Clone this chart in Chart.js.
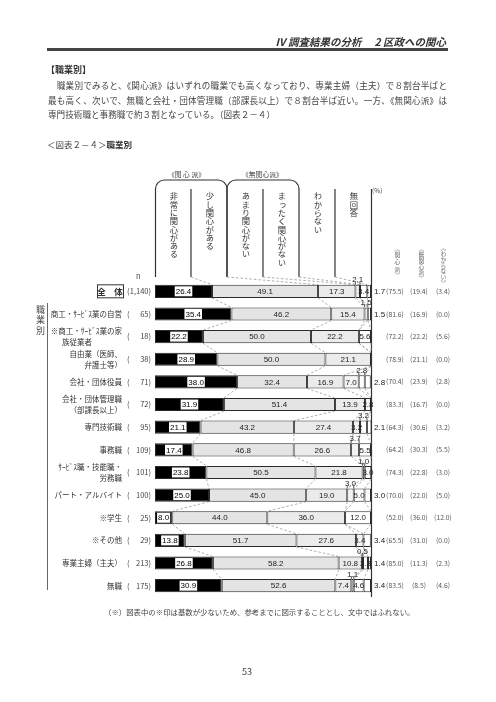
<!DOCTYPE html>
<html lang="ja">
<head>
<meta charset="utf-8">
<script src="https://cdn.jsdelivr.net/npm/chart.js@4.4.0/dist/chart.umd.min.js"></script>
<style>
  body { margin: 0; background: #fff; }
  #page { position: relative; width: 496px; height: 702px; overflow: hidden;
          font-family: "Noto Sans CJK JP", sans-serif; color: #333; }
  #page div { position: absolute; white-space: nowrap; }
  canvas { position: absolute; left: 0; top: 0; }
  .vt { writing-mode: vertical-rl; font-size: 8.3px; line-height: 1; color: #333; width: 10px; text-align: center; }
  .vs { writing-mode: vertical-rl; font-size: 5.8px; line-height: 1; color: #666; }
</style>
</head>
<body>
<div id="page">
  <canvas id="chart" width="496" height="702"></canvas>

  <!-- en-tete de page -->
  <div style="right:50px; top:35px; font-size:10.5px; line-height:14px; font-weight:bold; font-style:italic; color:#333;">Ⅳ 調査結果の分析　 2 区政への関心</div>
  <div style="left:47px; top:48px; width:401px; height:3px; background:#444;"></div>

  <div style="left:46px; top:63px; font-size:9px; line-height:14px; font-weight:bold;">【職業別】</div>
  <div style="left:48px; top:78px; width:399px; font-size:8.6px; line-height:14px; text-align-last:justify; color:#444;">　職業別でみると、《関心派》はいずれの職業でも高くなっており、専業主婦（主夫）で８割台半ばと</div>
  <div style="left:48px; top:92.5px; width:399px; font-size:8.6px; line-height:14px; text-align-last:justify; color:#444;">最も高く、次いで、無職と会社・団体管理職（部課長以上）で８割台半ば近い。一方、《無関心派》は</div>
  <div style="left:48px; top:106.5px; font-size:8.6px; line-height:14px; color:#444;">専門技術職と事務職で約３割となっている。（図表２－４）</div>

  <div style="left:47px; top:137px; font-size:8.5px; line-height:14px; color:#444;">＜図表２－４＞<b style="color:#333">職業別</b></div>

  <!-- en-tetes des colonnes -->
  <div style="left:168px; top:169px; font-size:6.8px; line-height:10px; color:#444;">《関 心 派》</div>
  <div style="left:242px; top:169px; font-size:6.8px; line-height:10px; color:#444;">《無関心派》</div>
  <div class="vt" style="left:168px; top:192px;">非常に関心がある</div>
  <div class="vt" style="left:204px; top:192px;">少し関心がある</div>
  <div class="vt" style="left:240px; top:192px;">あまり関心がない</div>
  <div class="vt" style="left:276px; top:192px;">まったく関心がない</div>
  <div class="vt" style="left:312px; top:192px;">わからない</div>
  <div class="vt" style="left:348px; top:192px;">無回答</div>
  <div style="left:372px; top:186px; font-size:6.5px; line-height:8px; color:#444;">(%)</div>

  <div class="vs" style="left:394px; top:246px;">《関 心 派》</div>
  <div class="vs" style="left:418px; top:246px;">《無関心派》</div>
  <div class="vs" style="left:440px; top:245px;">《わからない》</div>

  <div style="left:136px; top:271px; font-size:7.5px; line-height:10px; color:#444;">n</div>
  <div class="vt" style="left:35px; top:305px; font-size:9px; letter-spacing:1.5px; color:#444; width:10px;">職業別</div>
  <div style="left:47px; top:303px; width:0; height:287px; border-left:1px solid #666;"></div>

  <div style="left:104px; top:606px; font-size:7.4px; line-height:12px; color:#444;">（※）図表中の※印は基数が少ないため、参考までに図示することとし、文中ではふれない。</div>
  <div style="left:242px; top:666px; font-size:9px; line-height:12px; color:#444;">53</div>
</div>

<script>
// categories (lignes)
const rowNames = [
  ["全　体"],
  ["商工・ｻｰﾋﾞｽ業の自営"],
  ["※商工・ｻｰﾋﾞｽ業の家", "族従業者　　　　"],
  ["自由業（医師、", "弁護士等）"],
  ["会社・団体役員"],
  ["会社・団体管理職", "（部課長以上）"],
  ["専門技術職"],
  ["事務職"],
  ["ｻｰﾋﾞｽ職・技能職・", "労務職"],
  ["パート・アルバイト"],
  ["※学生"],
  ["※その他"],
  ["専業主婦（主夫）"],
  ["無職"]
];
const nCounts = [1140, 65, 18, 38, 71, 72, 95, 109, 101, 100, 25, 29, 213, 175];

// series (%)
const seriesNames = ["非常に関心がある", "少し関心がある", "あまり関心がない", "まったく関心がない", "わからない", "無回答"];
const hijouni   = [26.4, 35.4, 22.2, 28.9, 38.0, 31.9, 21.1, 17.4, 23.8, 25.0, 8.0, 13.8, 26.8, 30.9];
const sukoshi   = [49.1, 46.2, 50.0, 50.0, 32.4, 51.4, 43.2, 46.8, 50.5, 45.0, 44.0, 51.7, 58.2, 52.6];
const amari     = [17.3, 15.4, 22.2, 21.1, 16.9, 13.9, 27.4, 26.6, 21.8, 19.0, 36.0, 27.6, 10.8, 7.4];
const mattaku   = [2.1, 1.5, 0, 0, 7.0, 2.8, 3.2, 3.7, 1.0, 3.0, 0, 3.4, 0.5, 1.1];
const wakaranai = [3.4, 0, 5.6, 0, 2.8, 0, 3.2, 5.5, 3.0, 5.0, 12.0, 0, 2.3, 4.6];
const mukaitou  = [1.7, 1.5, 0, 0, 2.8, 0, 2.1, 0, 0, 3.0, 0, 3.4, 1.4, 3.4];

// colonnes de droite
const kanshinha   = [75.5, 81.6, 72.2, 78.9, 70.4, 83.3, 64.3, 64.2, 74.3, 70.0, 52.0, 65.5, 85.0, 83.5];
const mukanshinha = [19.4, 16.9, 22.2, 21.1, 23.9, 16.7, 30.6, 30.3, 22.8, 22.0, 36.0, 31.0, 11.3, 8.5];

const allSeries = [hijouni, sukoshi, amari, mattaku, wakaranai, mukaitou];
const colors = ["#000000", "#e4e4e4", "#ebebeb", "#f3f3f3", "#ffffff", "#ffffff"];

// etiquette au-dessus du segment ?
function isAbove(i, d) {
  const v = d === 3 ? mattaku[i] : wakaranai[i];
  const o = d === 3 ? wakaranai[i] : mattaku[i];
  if (v < 2) return true;
  if (d === 3) return o > 0 && v < o;
  return o > 0 && v <= o;
}

const numFont = "8px 'Liberation Sans', Arial, sans-serif";
const jpFont = "7.5px 'Noto Sans CJK JP', sans-serif";

const pagePlugin = {
  id: "pagePlugin",
  beforeDatasetsDraw(chart) {
    const ctx = chart.ctx;
    const a = chart.chartArea;
    const colW = (a.right - a.left) / 6;
    const boxTop = 180, sepTop = 189, sepBottom = a.top - 3;
    ctx.save();
    ctx.strokeStyle = "#333";
    ctx.lineWidth = 1.2;
    // cadres arrondis
    [[a.left + 0.5, a.left + 2 * colW], [a.left + 2 * colW, a.left + 4 * colW]].forEach(([x0, x1]) => {
      const r = 9;
      ctx.beginPath();
      ctx.moveTo(x0, sepBottom);
      ctx.lineTo(x0, boxTop + r);
      ctx.arcTo(x0, boxTop, x0 + r, boxTop, r);
      ctx.lineTo(x1 - r, boxTop);
      ctx.arcTo(x1, boxTop, x1, boxTop + r, r);
      ctx.lineTo(x1, sepBottom);
      ctx.stroke();
    });
    [1, 3, 5].forEach((k) => {
      ctx.beginPath();
      ctx.moveTo(a.left + k * colW, sepTop);
      ctx.lineTo(a.left + k * colW, sepBottom);
      ctx.stroke();
    });
    // axe droit
    ctx.beginPath();
    ctx.moveTo(a.right + 0.5, sepTop);
    ctx.lineTo(a.right + 0.5, a.bottom);
    ctx.stroke();

    // lignes pointillees
    ctx.strokeStyle = "#9a9a9a";
    ctx.lineWidth = 0.8;
    ctx.setLineDash([2.5, 2]);
    for (let k = 0; k < 5; k++) {
      const bars = chart.getDatasetMeta(k).data;
      const b0 = bars[0];
      ctx.beginPath();
      ctx.moveTo(a.left + (k + 1) * colW, sepBottom);
      ctx.lineTo(b0.x, b0.y - b0.height / 2);
      ctx.stroke();
      for (let i = 0; i < bars.length - 1; i++) {
        const b = bars[i], n = bars[i + 1];
        ctx.beginPath();
        ctx.moveTo(b.x, b.y + b.height / 2);
        ctx.lineTo(n.x, n.y - n.height / 2);
        ctx.stroke();
      }
    }
    ctx.restore();
  },
  afterDatasetsDraw(chart) {
    const ctx = chart.ctx;
    const a = chart.chartArea;
    ctx.save();
    ctx.textBaseline = "middle";

    for (let d = 0; d < 6; d++) {
      const bars = chart.getDatasetMeta(d).data;
      bars.forEach((bar, i) => {
        const v = allSeries[d][i];
        if (!v) return;
        const txt = v.toFixed(1);
        const cx = (bar.x + bar.base) / 2;
        const top = bar.y - bar.height / 2;
        ctx.font = numFont;
        ctx.fillStyle = "#222";
        if (d === 0) {
          const w = ctx.measureText(txt).width;
          ctx.fillStyle = "#fff";
          ctx.fillRect(cx - w / 2 - 1, bar.y - 5, w + 2, 10);
          ctx.fillStyle = "#000";
          ctx.textAlign = "center";
          ctx.fillText(txt, cx, bar.y + 0.5);
        } else if (d === 5) {
          ctx.textAlign = "left";
          ctx.fillText(txt, a.right + 3, bar.y + 0.5);
        } else if ((d === 3 || d === 4) && isAbove(i, d)) {
          ctx.textAlign = "center";
          ctx.fillText(txt, cx, top - 4.5);
          ctx.strokeStyle = "#333";
          ctx.lineWidth = 0.8;
          ctx.beginPath();
          ctx.moveTo(bar.base, top - 3); ctx.lineTo(bar.base, top);
          ctx.moveTo(bar.x, top - 3); ctx.lineTo(bar.x, top);
          ctx.stroke();
        } else {
          ctx.textAlign = "center";
          ctx.fillText(txt, cx, bar.y + 0.5);
        }
      });
    }

    // libelles gauche et n
    const bars0 = chart.getDatasetMeta(0).data;
    bars0.forEach((bar, i) => {
      const y = bar.y;
      const lines = rowNames[i];
      ctx.fillStyle = "#333";
      if (i === 0) {
        ctx.font = "bold 8.5px 'Noto Sans CJK JP', sans-serif";
        ctx.textAlign = "center";
        ctx.fillText(lines[0], 110, y);
        ctx.strokeStyle = "#333";
        ctx.lineWidth = 1;
        ctx.strokeRect(97.5, y - 6.5, 26, 13);
      } else {
        ctx.font = jpFont;
        ctx.textAlign = "right";
        if (lines.length === 1) {
          ctx.fillText(lines[0], 122, y);
        } else {
          ctx.fillText(lines[0], 122, y - 5);
          ctx.fillText(lines[1], 122, y + 5.5);
        }
      }
      ctx.font = jpFont;
      ctx.fillStyle = "#444";
      ctx.textAlign = "left";
      ctx.fillText("(", 127, y);
      ctx.textAlign = "right";
      ctx.fillText(nCounts[i].toLocaleString("en-US") + ")", 151, y);

      // colonnes de synthese
      ctx.font = "6.8px 'Noto Sans CJK JP', sans-serif";
      ctx.fillStyle = "#555";
      ctx.textAlign = "center";
      ctx.fillText("(" + kanshinha[i].toFixed(1) + ")", a.right + 24, y);
      ctx.fillText("(" + mukanshinha[i].toFixed(1) + ")", a.right + 48, y);
      ctx.fillText("(" + wakaranai[i].toFixed(1) + ")", a.right + 72, y);
    });
    ctx.restore();
  }
};

const ctx = document.getElementById("chart").getContext("2d");
const chart = new Chart(ctx, {
  type: "bar",
  data: {
    labels: rowNames.map((l) => l.join("")),
    datasets: allSeries.map((s, d) => ({
      label: seriesNames[d],
      data: s,
      backgroundColor: colors[d],
      borderColor: "#2a2a2a",
      borderWidth: 1,
      borderSkipped: false,
      categoryPercentage: 1,
      barPercentage: 0.58,
    })),
  },
  options: {
    indexAxis: "y",
    responsive: false,
    animation: false,
    devicePixelRatio: 1,
    layout: { padding: { left: 155, right: 125, top: 280, bottom: 105 } },
    plugins: { legend: { display: false }, tooltip: { enabled: false } },
    scales: {
      x: { stacked: true, min: 0, max: 100, display: false },
      y: { stacked: true, display: false },
    },
  },
  plugins: [pagePlugin],
});
</script>
</body>
</html>
